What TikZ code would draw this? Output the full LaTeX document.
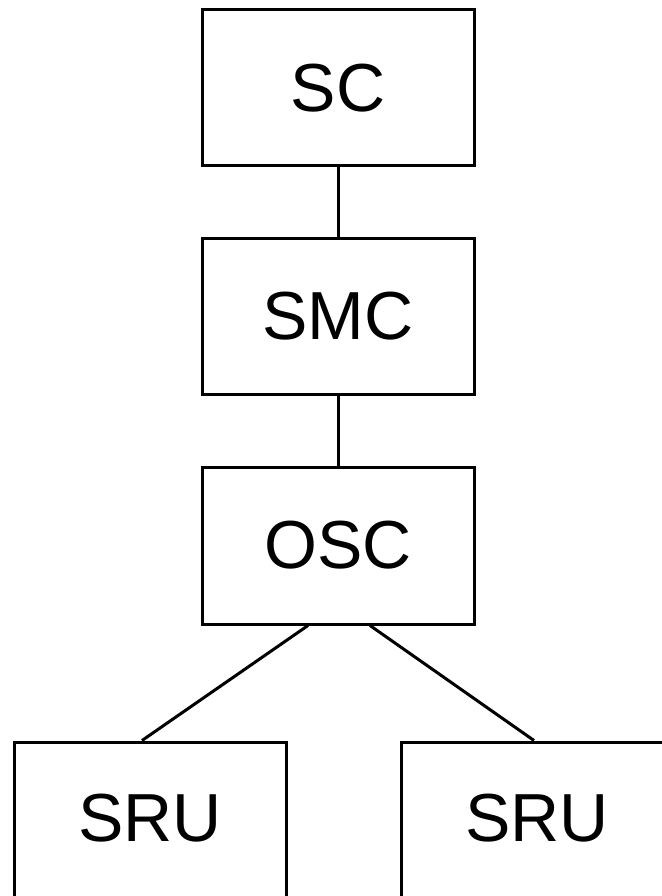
\documentclass[tikz,border=0pt]{standalone}
\usepackage{fontspec}
\setmainfont{Liberation Sans}
\begin{document}
\begin{tikzpicture}[x=1pt,y=-1pt,
  box/.style={draw=black, line width=3pt, minimum width=272pt, inner sep=0pt, font=\fontsize{68}{80}\selectfont},
  link/.style={draw=black, line width=3pt}]
\useasboundingbox (0,0) rectangle (661,896);
\node[box, minimum height=156pt] (sc) at (338,88) {SC};
\node[box, minimum height=156pt] (smc) at (338,316) {SMC};
\node[box, minimum height=157pt] (osc) at (338,545.5) {OSC};
\node[box, text height=99pt, text depth=80pt, anchor=base] (srul) at (150,841) {SRU};
\node[box, text height=99pt, text depth=80pt, anchor=base] (srur) at (537,841) {SRU};
\draw[link] (sc.south) -- (smc.north);
\draw[link] (smc.south) -- (osc.north);
\draw[link] ([xshift=-30pt]osc.south) -- ([xshift=-8pt]srul.north);
\draw[link] ([xshift=32pt]osc.south) -- ([xshift=-3pt]srur.north);
\end{tikzpicture}
\end{document}
